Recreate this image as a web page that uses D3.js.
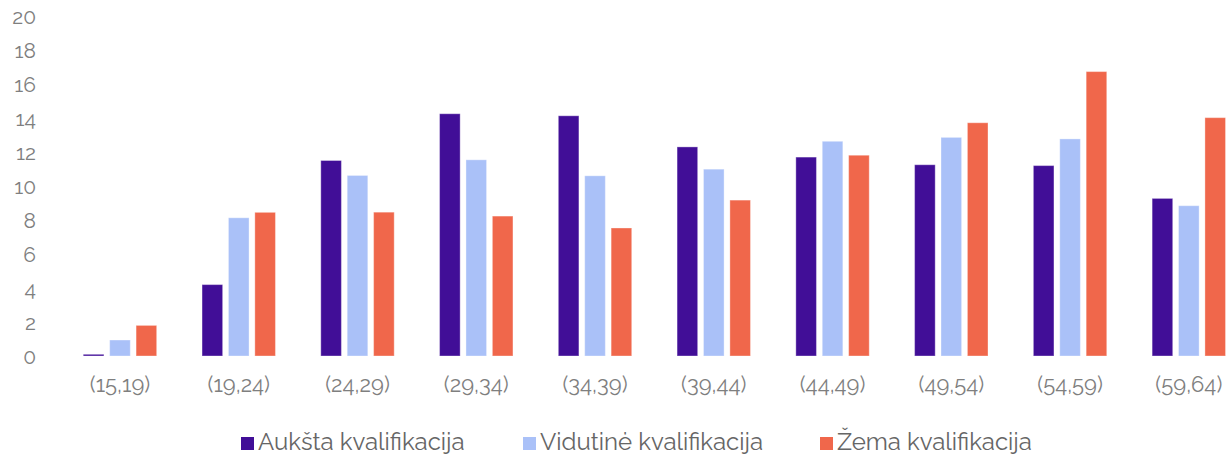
<!DOCTYPE html>
<html>
<head>
<meta charset="utf-8">
<script src="https://cdn.jsdelivr.net/npm/d3@7"></script>
<style>
  html, body { margin: 0; padding: 0; background: #fff; }
  svg { display: block; font-family: Raleway, Lato, "Open Sans", sans-serif; font-variant-numeric: oldstyle-nums; }
</style>
</head>
<body>
<svg id="chart" width="1229" height="458"></svg>
<script>
const categories = ["(15,19)", "(19,24)", "(24,29)", "(29,34)", "(34,39)", "(39,44)", "(44,49)", "(49,54)", "(54,59)", "(59,64)"];
const seriesNames = ["Aukšta kvalifikacija", "Vidutinė kvalifikacija", "Žema kvalifikacija"];
const highValues = [0.1, 4.2, 11.5, 14.25, 14.13, 12.3, 11.7, 11.25, 11.2, 9.27];
const mediumValues = [0.94, 8.13, 10.62, 11.54, 10.6, 10.99, 12.63, 12.86, 12.77, 8.84];
const lowValues = [1.8, 8.45, 8.46, 8.23, 7.53, 9.17, 11.81, 13.72, 16.73, 14.02];
const yTicks = [0, 2, 4, 6, 8, 10, 12, 14, 16, 18, 20];
const colors = ["#410E97", "#AAC1F8", "#F0674B"];

const seriesValues = [highValues, mediumValues, lowValues];
const svg = d3.select("#chart");

const x0 = d3.scaleBand().domain(categories).range([60.6, 1248.2]).paddingInner(0.382).paddingOuter(0.191);
const x1 = d3.scaleBand().domain(d3.range(3)).range([0, x0.bandwidth()]).paddingInner(0.22).paddingOuter(0);
const y = d3.scaleLinear().domain([0, 20]).range([356, 16]);

// y axis
const yAxis = d3.axisLeft(y).tickValues(yTicks).tickSize(0).tickPadding(0);
const yg = svg.append("g").attr("transform", "translate(36,1)").call(yAxis);
yg.select(".domain").remove();
yg.selectAll("text").attr("fill", "#7f7f7f").style("font-size", "21px").style("font-family", "Raleway, Lato, sans-serif");

// x axis
const xAxis = d3.axisBottom(x0).tickSize(0).tickPadding(0);
const xg = svg.append("g").attr("transform", "translate(0,376)").call(xAxis);
xg.select(".domain").remove();
xg.selectAll("text").attr("fill", "#7f7f7f").style("font-size", "22px").style("font-family", "Raleway, Lato, sans-serif");

// bars
const groups = svg.append("g").selectAll("g")
  .data(categories)
  .join("g")
  .attr("transform", d => `translate(${x0(d)},0)`);

groups.selectAll("rect")
  .data((d, i) => seriesValues.map((vals, s) => ({ s, v: vals[i] })))
  .join("rect")
  .attr("x", d => x1(d.s))
  .attr("width", x1.bandwidth())
  .attr("y", d => y(d.v))
  .attr("height", d => y(0) - y(d.v))
  .attr("fill", d => colors[d.s])
  .attr("stroke", "#ffffff")
  .attr("stroke-opacity", 0.35)
  .attr("stroke-width", 1);

// legend
const legendX = [241, 523, 820];
const legend = svg.append("g");
seriesNames.forEach((name, i) => {
  const g = legend.append("g").attr("transform", `translate(${legendX[i]},437)`);
  g.append("rect").attr("width", 13).attr("height", 13).attr("fill", colors[i]);
  g.append("text").attr("x", 17).attr("y", 13).attr("fill", "#666666")
    .style("font-size", "24px").text(name);
});
</script>
</body>
</html>
